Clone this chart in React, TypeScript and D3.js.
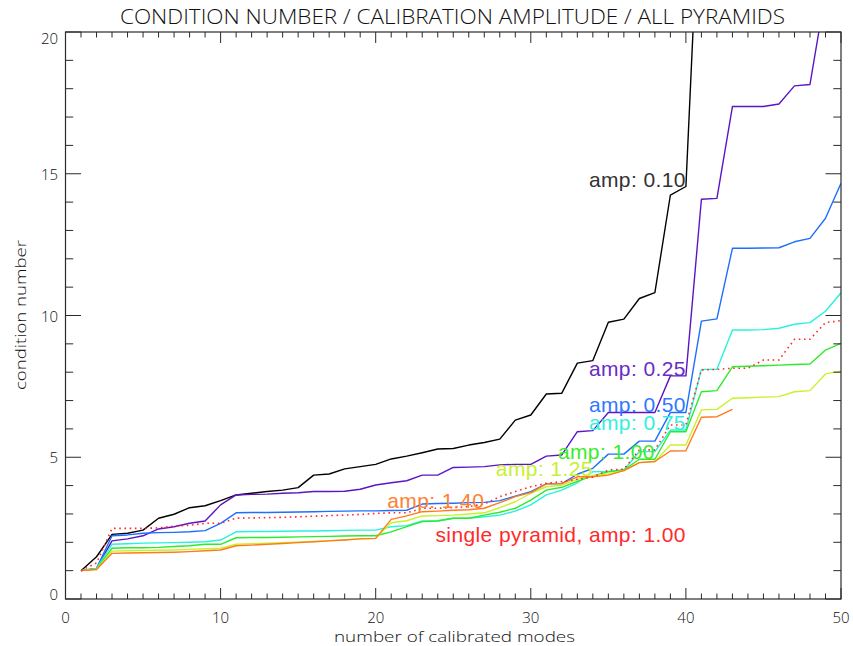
import React from "react";
import * as d3 from "d3";

// Condition number vs number of calibrated modes, one curve per calibration amplitude.
const amp010 = [1.0, 1.49, 2.28, 2.32, 2.43, 2.85, 2.99, 3.22, 3.29, 3.47, 3.67, 3.73, 3.79, 3.84, 3.93, 4.37, 4.41, 4.59, 4.67, 4.75, 4.94, 5.04, 5.16, 5.29, 5.31, 5.43, 5.52, 5.64, 6.31, 6.49, 7.23, 7.26, 8.32, 8.41, 9.76, 9.87, 10.6, 10.81, 14.25, 14.55, 26.5];
const amp025 = [1.0, 1.08, 2.05, 2.12, 2.23, 2.47, 2.55, 2.67, 2.75, 3.32, 3.67, 3.69, 3.7, 3.73, 3.75, 3.79, 3.79, 3.8, 3.87, 4.02, 4.1, 4.17, 4.37, 4.37, 4.64, 4.65, 4.67, 4.73, 4.75, 4.75, 5.04, 5.08, 5.9, 5.94, 6.58, 6.58, 6.58, 6.58, 7.87, 7.87, 14.1, 14.13, 17.37, 17.37, 17.37, 17.46, 18.1, 18.15, 21.4, 25.0];
const amp050 = [1.0, 1.08, 2.23, 2.26, 2.32, 2.34, 2.35, 2.37, 2.41, 2.67, 3.04, 3.05, 3.05, 3.06, 3.07, 3.08, 3.09, 3.1, 3.11, 3.11, 3.12, 3.13, 3.35, 3.37, 3.38, 3.4, 3.41, 3.47, 3.63, 3.79, 4.06, 4.07, 4.4, 4.61, 5.11, 5.11, 5.57, 5.57, 6.58, 6.58, 9.8, 9.88, 12.37, 12.37, 12.38, 12.39, 12.6, 12.72, 13.43, 14.66];
const amp075 = [1.0, 1.08, 1.93, 1.95, 1.97, 1.98, 1.99, 2.0, 2.02, 2.08, 2.37, 2.38, 2.38, 2.39, 2.4, 2.4, 2.41, 2.42, 2.43, 2.43, 2.55, 2.59, 2.75, 2.76, 2.85, 2.85, 2.9, 2.96, 3.1, 3.32, 3.67, 3.84, 4.1, 4.49, 4.5, 4.55, 5.2, 5.2, 5.96, 5.96, 8.1, 8.1, 9.49, 9.49, 9.5, 9.55, 9.69, 9.75, 10.15, 10.8];
const amp100 = [1.0, 1.06, 1.79, 1.81, 1.81, 1.82, 1.85, 1.88, 1.93, 1.93, 2.16, 2.17, 2.17, 2.18, 2.19, 2.2, 2.21, 2.22, 2.23, 2.23, 2.37, 2.55, 2.73, 2.75, 2.85, 2.85, 2.96, 3.06, 3.2, 3.49, 3.84, 3.94, 4.15, 4.34, 4.49, 4.55, 4.93, 4.93, 5.9, 5.9, 7.31, 7.35, 8.19, 8.21, 8.23, 8.25, 8.27, 8.29, 8.78, 9.02];
const amp125 = [1.0, 1.05, 1.69, 1.7, 1.71, 1.72, 1.73, 1.75, 1.77, 1.79, 1.93, 1.95, 1.97, 1.99, 2.01, 2.03, 2.06, 2.09, 2.12, 2.14, 2.69, 2.76, 2.93, 2.94, 2.96, 3.0, 3.04, 3.22, 3.43, 3.73, 3.96, 4.02, 4.22, 4.35, 4.41, 4.53, 4.81, 4.85, 5.43, 5.43, 6.67, 6.69, 7.08, 7.1, 7.12, 7.14, 7.31, 7.35, 7.94, 8.04];
const amp140 = [1.0, 1.04, 1.61, 1.62, 1.63, 1.64, 1.65, 1.67, 1.7, 1.73, 1.88, 1.9, 1.93, 1.96, 1.99, 2.02, 2.05, 2.08, 2.12, 2.14, 2.81, 2.93, 3.08, 3.1, 3.13, 3.15, 3.2, 3.4, 3.61, 3.75, 4.06, 4.07, 4.31, 4.31, 4.37, 4.53, 4.81, 4.85, 5.22, 5.23, 6.41, 6.43, 6.69];
const singlePyramid = [1.0, 1.27, 2.49, 2.49, 2.49, 2.51, 2.57, 2.6, 2.67, 2.67, 2.85, 2.86, 2.87, 2.88, 2.9, 2.92, 2.94, 2.96, 2.98, 3.02, 3.04, 3.04, 3.2, 3.2, 3.22, 3.26, 3.35, 3.61, 3.79, 3.96, 4.08, 4.14, 4.22, 4.3, 4.55, 4.58, 5.26, 5.26, 6.14, 6.14, 8.08, 8.1, 8.14, 8.14, 8.43, 8.43, 9.16, 9.16, 9.75, 9.82];

const ampSeries = [amp010, amp025, amp050, amp075, amp100, amp125, amp140];
const ampNames = ["amp: 0.10", "amp: 0.25", "amp: 0.50", "amp: 0.75", "amp: 1.00", "amp: 1.25", "amp: 1.40"];
// mode number at which each curve's label is anchored (right-aligned on the curve)
const ampLabelMode = [40, 40, 40, 40, 38, 34, 27];
const singleName = "single pyramid, amp: 1.00";
const singleLabelAt = [40, 2.0];

const xMajor = [0, 10, 20, 30, 40, 50];
const xMinor = d3.range(0, 51);
const yMajor = [0, 5, 10, 15, 20];
const yMinor = d3.range(0, 21);

const W = 853;
const H = 646;
const left = 65.5;
const right = 841;
const top = 32;
const bottom = 599;

const colors = ["#000000", "#5c14c4", "#1e6eff", "#28f2dc", "#2aec2a", "#c8f228", "#ff7a1e"];
const labelColors = ["#333333", "#6a2cc8", "#2f78ff", "#30f0dc", "#38ec28", "#c8f030", "#ff8030"];
const singleColor = "#ff2a2a";

const thinFont = "'Open Sans', 'DejaVu Sans', sans-serif";
const labelFont = "'Liberation Sans', Arial, sans-serif";

export default function App() {
  const x = d3.scaleLinear().domain([0, 50]).range([left, right]);
  const y = d3.scaleLinear().domain([0, 20]).range([bottom, top]);
  const line = d3
    .line<number>()
    .x((_, i) => x(i + 1))
    .y((d) => y(d));

  const axisColor = "#2a2a2a";
  const clampLabelY = (v: number) => Math.min(bottom - 5, Math.max(top + 6, y(v)));

  return (
    <svg
      width={W}
      height={H}
      style={{ position: "absolute", left: 0, top: 0, background: "#fff" }}
    >
      <defs>
        <clipPath id="plot-clip">
          <rect x={left} y={top} width={right - left} height={bottom - top} />
        </clipPath>
      </defs>
      <rect width={W} height={H} fill="#fff" />

      <text
        x={120}
        y={24}
        textLength={665}
        lengthAdjust="spacingAndGlyphs"
        fontFamily={thinFont}
        fontWeight={300}
        fontSize={21}
        fill="#111"
      >
        CONDITION NUMBER / CALIBRATION AMPLITUDE / ALL PYRAMIDS
      </text>

      {/* curves */}
      <g clipPath="url(#plot-clip)" fill="none" strokeLinejoin="round">
        {ampSeries.map((s, k) => (
          <path key={k} d={line(s) ?? ""} stroke={colors[k]} strokeWidth={1.4} />
        ))}
        <path
          d={line(singlePyramid) ?? ""}
          stroke={singleColor}
          strokeWidth={1.6}
          strokeDasharray="1.6 3.6"
        />
      </g>

      {/* curve labels */}
      <g fontFamily={labelFont} fontSize={21} letterSpacing={0.4} textAnchor="end">
        {ampSeries.map((s, k) => {
          const m = ampLabelMode[k];
          return (
            <text key={k} x={x(m)} y={y(s[m - 1])} fill={labelColors[k]}>
              {ampNames[k]}
            </text>
          );
        })}
        <text x={x(singleLabelAt[0])} y={y(singleLabelAt[1])} fill={singleColor}>
          {singleName}
        </text>
      </g>

      {/* frame */}
      <rect
        x={left}
        y={top}
        width={right - left}
        height={bottom - top}
        fill="none"
        stroke={axisColor}
        strokeWidth={1.2}
      />

      {/* x ticks, bottom and top */}
      <g stroke={axisColor} strokeWidth={1}>
        {xMinor.map((v) => {
          const len = v % 10 === 0 ? 11 : 5.5;
          return (
            <g key={v}>
              <line x1={x(v)} x2={x(v)} y1={bottom} y2={bottom - len} />
              <line x1={x(v)} x2={x(v)} y1={top} y2={top + len} />
            </g>
          );
        })}
        {yMinor.map((v) => {
          const len = v % 5 === 0 ? 15.5 : 7.7;
          return (
            <g key={v}>
              <line x1={left} x2={left + len} y1={y(v)} y2={y(v)} />
              <line x1={right} x2={right - len} y1={y(v)} y2={y(v)} />
            </g>
          );
        })}
      </g>

      {/* tick labels */}
      <g fontFamily={thinFont} fontWeight={300} fontSize={15} fill="#111">
        {xMajor.map((v) => (
          <text key={v} x={x(v)} y={623} textAnchor="middle">
            {String(v)}
          </text>
        ))}
        {yMajor.map((v) => (
          <text
            key={v}
            x={58}
            y={clampLabelY(v)}
            textAnchor="end"
            dominantBaseline="central"
          >
            {String(v)}
          </text>
        ))}
      </g>

      {/* axis titles */}
      <text
        x={334}
        y={642}
        textLength={241}
        lengthAdjust="spacingAndGlyphs"
        fontFamily={thinFont}
        fontWeight={300}
        fontSize={15}
        fill="#111"
      >
        number of calibrated modes
      </text>
      <text
        transform="translate(26,315) rotate(-90)"
        textAnchor="middle"
        textLength={150}
        lengthAdjust="spacingAndGlyphs"
        fontFamily={thinFont}
        fontWeight={300}
        fontSize={15}
        fill="#111"
      >
        condition number
      </text>
    </svg>
  );
}
